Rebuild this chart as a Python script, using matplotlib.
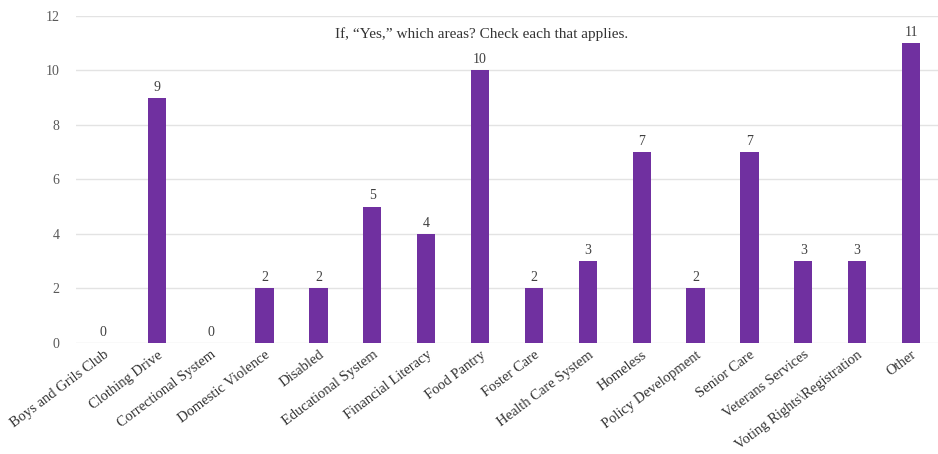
import numpy as np
import matplotlib.pyplot as plt

categories = ['Boys and Grils Club', 'Clothing Drive', 'Correctional System',
              'Domestic Violence', 'Disabled', 'Educational System',
              'Financial Literacy', 'Food Pantry', 'Foster Care',
              'Health Care System', 'Homeless', 'Policy Development',
              'Senior Care', 'Veterans Services', 'Voting Rights\\Registration',
              'Other']
counts = [0, 9, 0, 2, 2, 5, 4, 10, 2, 3, 7, 2, 7, 3, 3, 11]
yticks = [0, 2, 4, 6, 8, 10, 12]

plt.rcParams['font.family'] = ['Liberation Serif', 'DejaVu Serif']

fig = plt.figure(figsize=(9.38, 4.54), dpi=100)
ax = fig.add_axes([0.081, 0.245, 0.919, 0.72])

x = np.arange(len(categories))
ax.bar(x, counts, width=0.34, color='#7030A0', zorder=3)
for xi, v in zip(x, counts):
    ax.text(xi, v + 0.15, str(v), ha='center', va='bottom', fontsize=10, color='#404040')

ax.set_xlim(-0.5, len(categories) - 0.5)
ax.set_ylim(0, 12)
ax.set_yticks(yticks)
ax.grid(axis='y', color='#e3e3e3', linewidth=1, zorder=0)
for s in ax.spines.values():
    s.set_visible(False)
ax.tick_params(axis='both', length=0)
ax.tick_params(axis='y', labelsize=10, labelcolor='#595959', pad=12)
ax.set_xticks(x)
ax.set_xticklabels(categories, rotation=37, ha='right', rotation_mode='anchor',
                   fontsize=10.5, color='#333333')
ax.tick_params(axis='x', pad=4)

ax.text(0.47, 0.945, 'If, \u201cYes,\u201d which areas? Check each that applies.',
        transform=ax.transAxes, ha='center', va='center', fontsize=11, color='#333333')

fig.savefig('out.png', dpi=100)
